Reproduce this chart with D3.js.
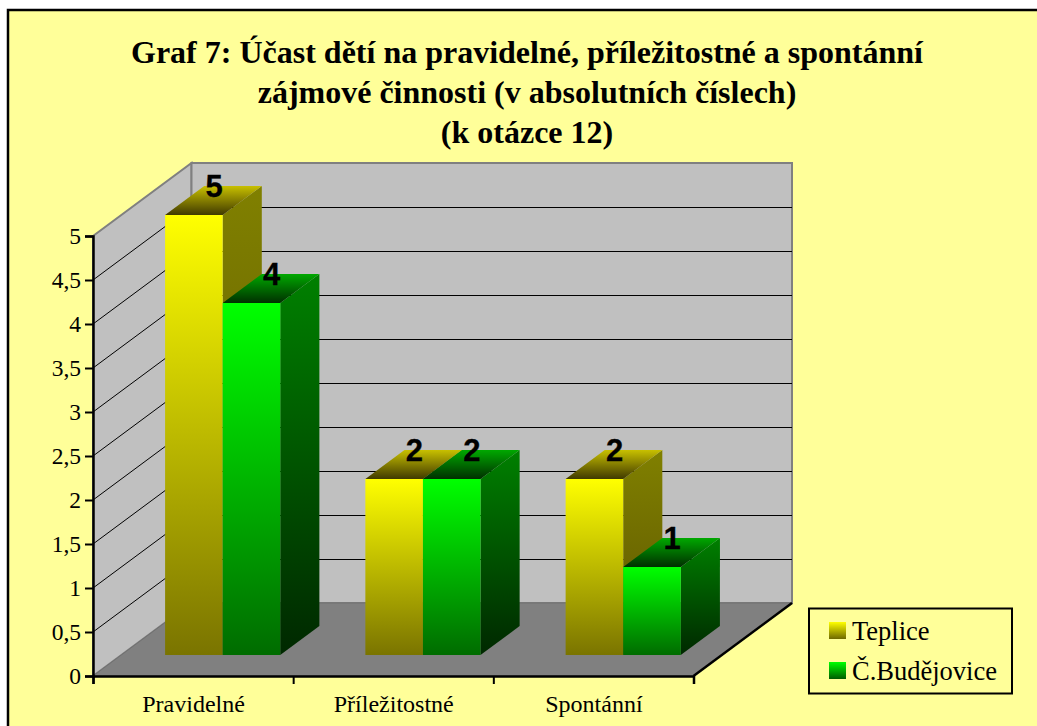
<!DOCTYPE html>
<html><head><meta charset="utf-8">
<script src="https://cdnjs.cloudflare.com/ajax/libs/d3/7.8.5/d3.min.js"></script>
<style>html,body{margin:0;padding:0;background:#fff}svg{display:block}</style></head>
<body><svg id="c" width="1037" height="726"></svg>
<script>
const categories = ["Pravidelné","Příležitostné","Spontánní"];
const seriesNames = ["Teplice","Č.Budějovice"];
const teplice = [5,2,2];
const budejovice = [4,2,1];
const yTicks = [0,0.5,1,1.5,2,2.5,3,3.5,4,4.5,5];
const titleLines = ["Graf 7: Účast dětí na pravidelné, příležitostné a spontánní","zájmové činnosti (v absolutních číslech)","(k otázce 12)"];

const svg = d3.select("#c");
const serif = "'Liberation Serif','Times New Roman',serif";
const sans = "'Liberation Sans',Arial,sans-serif";
const DX = 98.5, DY = 73;
const x = d3.scaleBand().domain(categories).range([94.2,695]).paddingInner(0.425).paddingOuter(0.2125);
const y = d3.scaleLinear().domain([0,5]).range([676,236]);
// depth projection: z in 0..1 from front to back wall
const P = (px,v,z)=>[px+DX*z, y(v)-DY*z];
const path = pts => d3.line()(pts)+"Z";

const defs = svg.append("defs");
function grad(id,stops,x1=0,y1=0,x2=0,y2=1){
  const g=defs.append("linearGradient").attr("id",id).attr("x1",x1).attr("y1",y1).attr("x2",x2).attr("y2",y2);
  stops.forEach((c,i)=>g.append("stop").attr("offset",i/(stops.length-1)).attr("stop-color",c));
}
grad("yF",["#ffff00","#7a7400"]);
grad("yS",["#808000","#5c5400"]);
grad("yT",["#c8c000","#403a00"]);
grad("gF",["#00ff00","#006c00"]);
grad("gS",["#008000","#002800"]);
grad("gT",["#00a800","#003000"]);
grad("lY",["#ffff00","#6e6800"]);
grad("lG",["#00ff00","#005c00"]);

// chart area
svg.append("rect").attr("x",8).attr("y",10).attr("width",1060).attr("height",760)
  .attr("fill","#ffff99").attr("stroke","#000").attr("stroke-width",2.5);

// title
svg.append("g").selectAll("text").data(titleLines).join("text")
  .attr("x",527).attr("y",(d,i)=>63+i*40).attr("text-anchor","middle")
  .attr("font-family",serif).attr("font-weight","bold").attr("font-size",32).text(d=>d);

// walls
const XR = 693.5;
svg.append("path").attr("d",path([P(93,5,0),P(93,5,1),P(93,0,1),P(93,0,0)])).attr("fill","#c0c0c0").attr("stroke","#808080").attr("stroke-width",2);
svg.append("path").attr("d",path([P(XR,5,1),P(93,5,1),P(93,0,1),P(XR,0,1)])).attr("fill","#c0c0c0").attr("stroke","#808080").attr("stroke-width",2);
svg.append("path").attr("d",path([P(93,0,0),P(93,0,1),P(XR,0,1),P(XR,0,0)])).attr("fill","#808080").attr("stroke","#707070").attr("stroke-width",1);

// gridlines
const grid = svg.append("g").attr("stroke","#000").attr("stroke-width",1).attr("fill","none");
yTicks.slice(1,-1).forEach(t=>{
  grid.append("path").attr("d",d3.line()([P(93,t,0),P(93,t,1)]));
  const a=P(93,t,1), b=P(XR,t,1);
  grid.append("path").attr("d",d3.line()([[a[0],a[1]+0.5],[b[0],b[1]+0.5]]));
});
svg.append("path").attr("d",d3.line()([P(93,5,1),P(XR,5,1)])).attr("stroke","#808080").attr("stroke-width",2);

// bars
const Z0 = 21/73, Z1 = 50/73;
function bar(px0,px1,v,f,s,t){
  const g=svg.append("g");
  g.append("path").attr("d",path([P(px1,0,Z0),P(px1,0,Z1),P(px1,v,Z1),P(px1,v,Z0)])).attr("fill",`url(#${s})`);
  g.append("path").attr("d",path([P(px0,v,Z0),P(px1,v,Z0),P(px1,v,Z1),P(px0,v,Z1)])).attr("fill",`url(#${t})`);
  g.append("path").attr("d",path([P(px0,0,Z0),P(px1,0,Z0),P(px1,v,Z0),P(px0,v,Z0)])).attr("fill",`url(#${f})`);
}
const series=[{v:teplice,f:"yF",s:"yS",t:"yT"},{v:budejovice,f:"gF",s:"gS",t:"gT"}];
categories.forEach((c,i)=>{
  const x0=x(c), w=x.bandwidth()/2;
  series.forEach((sr,k)=>bar(x0+k*w,x0+(k+1)*w,sr.v[i],sr.f,sr.s,sr.t));
});
// value labels
categories.forEach((c,i)=>{
  const x0=x(c), w=x.bandwidth()/2;
  series.forEach((sr,k)=>{
    const [lx,ly]=P(x0+(k+0.5)*w,sr.v[i],Z1);
    svg.append("text").attr("x",lx-19).attr("y",ly+10.5).attr("text-anchor","middle")
      .attr("font-family",sans).attr("font-weight","bold").attr("font-size",31).attr("stroke","#000").attr("stroke-width",0.3).text(sr.v[i]);
  });
});

// axes
const axY = svg.append("g").attr("transform","translate(93,0)")
  .call(d3.axisLeft(y).tickValues(yTicks).tickSize(8).tickPadding(4).tickFormat(d=>String(d).replace(".",",")));
axY.selectAll("text").attr("font-family",serif).attr("font-size",23.5).attr("fill","#000");
const xEdge = d3.scaleLinear().domain([0,3]).range([93,XR]);
const axX = svg.append("g").attr("transform","translate(0,676)")
  .call(d3.axisBottom(xEdge).tickValues([0,1,2,3]).tickSize(8).tickFormat(""));
[axY,axX].forEach(a=>{a.selectAll("path.domain").attr("stroke","#000").attr("stroke-width",2.5);a.selectAll("line").attr("stroke","#000").attr("stroke-width",2)});
svg.append("path").attr("d",d3.line()([P(XR,0,0),P(XR,0,1)])).attr("stroke","#000").attr("stroke-width",2.5).attr("fill","none");

svg.append("g").selectAll("text").data(categories).join("text")
  .attr("x",(d,i)=>(xEdge(i)+xEdge(i+1))/2+0.5).attr("y",712).attr("text-anchor","middle")
  .attr("font-family",serif).attr("font-size",24).text(d=>d);

// legend
svg.append("rect").attr("x",809).attr("y",608.5).attr("width",203).attr("height",85).attr("fill","#ffff99").attr("stroke","#000").attr("stroke-width",2);
seriesNames.forEach((n,i)=>{
  const cy=630.5+i*40;
  svg.append("rect").attr("x",829).attr("y",cy-8.5).attr("width",17).attr("height",17).attr("fill",i?"url(#lG)":"url(#lY)");
  svg.append("text").attr("x",852).attr("y",cy+9).attr("font-family",serif).attr("font-size",26.5).text(n);
});
</script></body></html>
